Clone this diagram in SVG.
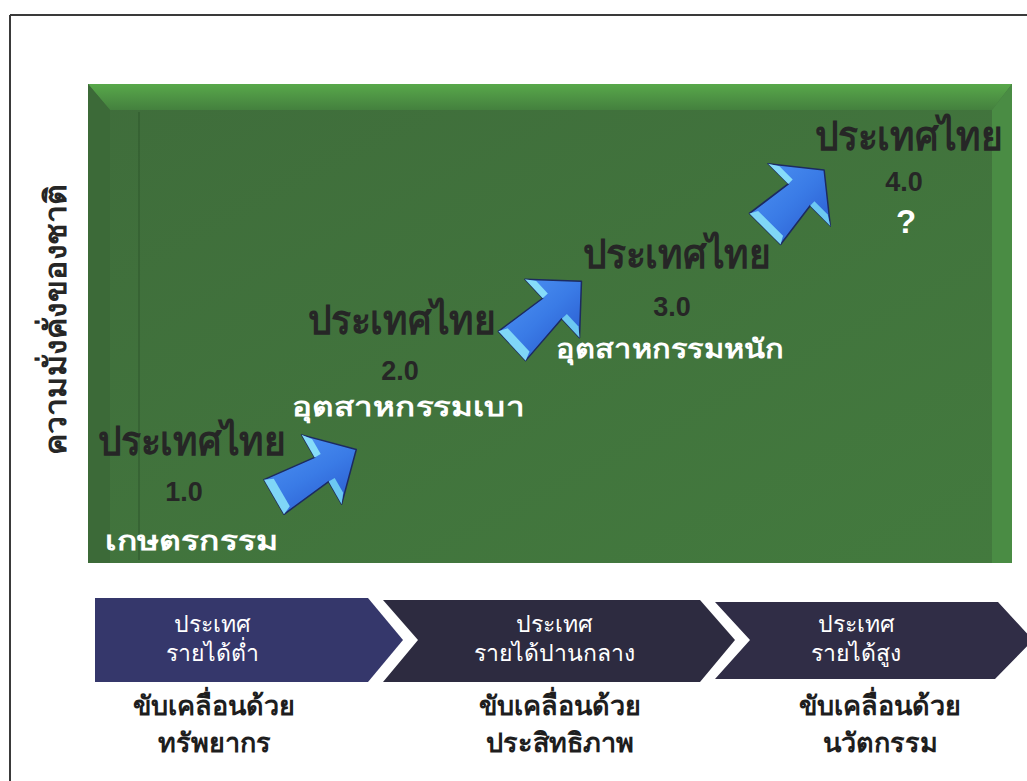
<svg xmlns="http://www.w3.org/2000/svg" width="1027" height="781" viewBox="0 0 1027 781">
<style>
.lbl{font-family:"Noto Sans","DejaVu Sans",sans-serif;font-weight:bold;fill:#262626}
.num{font-family:"Liberation Sans","Noto Sans",sans-serif;font-weight:bold;fill:#262626;font-size:27px;text-anchor:middle}
.q{font-family:"Liberation Sans","Noto Sans",sans-serif;font-weight:bold;fill:#ffffff;font-size:33px;text-anchor:middle}
.wt{font-family:"Noto Sans","DejaVu Sans",sans-serif;font-weight:bold;fill:#ffffff;font-size:26px}
.cv{font-family:"Noto Sans","DejaVu Sans",sans-serif;fill:#ffffff;font-size:23px;text-anchor:middle}
.dr{font-family:"Noto Sans","DejaVu Sans",sans-serif;font-weight:bold;fill:#1e1e1e;font-size:27px;text-anchor:middle}
</style>
<defs>
<linearGradient id="gTop" x1="0" y1="0" x2="0" y2="1">
<stop offset="0" stop-color="#58a84a"/><stop offset="1" stop-color="#44803e"/>
</linearGradient>
<linearGradient id="gMain" x1="0" y1="0" x2="1" y2="1">
<stop offset="0" stop-color="#3f6d3b"/><stop offset="1" stop-color="#437a3e"/>
</linearGradient>
<linearGradient id="gArr" x1="0" y1="0" x2="0" y2="1">
<stop offset="0" stop-color="#4a8ef0"/><stop offset="0.5" stop-color="#3a7be6"/><stop offset="1" stop-color="#2c5fd2"/>
</linearGradient>
<g id="arrow">
<polygon points="0,-20 55,-14 55,-40 95,0 55,40 55,14 0,20" fill="url(#gArr)" stroke="#1c2a60" stroke-width="1.5" stroke-linejoin="round"/>
<polygon points="0,-20 9,-16 9,16 0,20" fill="#7fd6f7"/>
<polygon points="55,-40 55,-14 62,-14 62,-31" fill="#86dcf9"/>
<polygon points="55,14 55,40 62,31 62,14" fill="#6cc8f2"/>
</g>
</defs>
<rect width="1027" height="781" fill="#ffffff"/>
<g id="frame" fill="none" stroke="#3a3a3a" stroke-width="2">
<line x1="10" y1="15" x2="1027" y2="15"/>
<line x1="10" y1="15" x2="10" y2="781"/>
</g>
<g id="panel">
<rect x="88" y="84" width="924" height="479" fill="url(#gMain)"/>
<polygon points="88,84 1012,84 992,110 110,110" fill="url(#gTop)"/>
<polygon points="992,110 1012,84 1012,563 992,563" fill="#4a8c44"/>
<polygon points="88,84 110,110 110,563 88,563" fill="#3c6a38"/>
<line x1="139" y1="112" x2="139" y2="560" stroke="#355f32" stroke-width="1.5"/>
</g>
<g id="yaxis">
<text class="lbl" font-size="30" text-anchor="middle" fill="#2e2e2e" transform="translate(66,320) rotate(-90)" textLength="270" lengthAdjust="spacingAndGlyphs">ความมั่งคั่งของชาติ</text>
</g>
<g id="connectors">
<use href="#arrow" transform="translate(274,497) rotate(-30)"/>
<use href="#arrow" transform="translate(512,346) rotate(-43)"/>
<use href="#arrow" transform="translate(765,229) rotate(-45) scale(0.88,1.1)"/>
</g>
<g id="stage1">
<text class="lbl" x="98" y="455" font-size="40" textLength="187" lengthAdjust="spacingAndGlyphs">ประเทศไทย</text>
<text class="num" x="184" y="501">1.0</text>
<text class="wt" x="105" y="550" textLength="173" lengthAdjust="spacingAndGlyphs">เกษตรกรรม</text>
</g>
<g id="stage2">
<text class="lbl" x="308" y="334" font-size="40" textLength="187" lengthAdjust="spacingAndGlyphs">ประเทศไทย</text>
<text class="num" x="400" y="380">2.0</text>
<text class="wt" x="292" y="416" textLength="233" lengthAdjust="spacingAndGlyphs">อุตสาหกรรมเบา</text>
</g>
<g id="stage3">
<text class="lbl" x="583" y="268" font-size="40" textLength="187" lengthAdjust="spacingAndGlyphs">ประเทศไทย</text>
<text class="num" x="672" y="316">3.0</text>
<text class="wt" x="556" y="358" textLength="228" lengthAdjust="spacingAndGlyphs">อุตสาหกรรมหนัก</text>
</g>
<g id="stage4">
<text class="lbl" x="815" y="150" font-size="40" textLength="187" lengthAdjust="spacingAndGlyphs">ประเทศไทย</text>
<text class="num" x="904" y="191">4.0</text>
<text class="q" x="906" y="233">?</text>
</g>
<g id="chevron1">
<polygon points="95,598 368,598 403,640 368,682 95,682" fill="#35376b"/>
<text class="cv" x="212" y="632">ประเทศ</text>
<text class="cv" x="212" y="661">รายได้ต่ำ</text>
<text class="dr" x="214" y="715">ขับเคลื่อนด้วย</text>
<text class="dr" x="214" y="752">ทรัพยากร</text>
</g>
<g id="chevron2">
<polygon points="383,600 700,600 735,640 700,682 383,682 418,640" fill="#2d2b40"/>
<text class="cv" x="554" y="632">ประเทศ</text>
<text class="cv" x="554" y="661">รายได้ปานกลาง</text>
<text class="dr" x="560" y="715">ขับเคลื่อนด้วย</text>
<text class="dr" x="560" y="752">ประสิทธิภาพ</text>
</g>
<g id="chevron3">
<polygon points="715,602 998,602 1033,640 995,679 715,679 750,640" fill="#302d46"/>
<text class="cv" x="856" y="632">ประเทศ</text>
<text class="cv" x="856" y="661">รายได้สูง</text>
<text class="dr" x="880" y="715">ขับเคลื่อนด้วย</text>
<text class="dr" x="880" y="752">นวัตกรรม</text>
</g>
</svg>
